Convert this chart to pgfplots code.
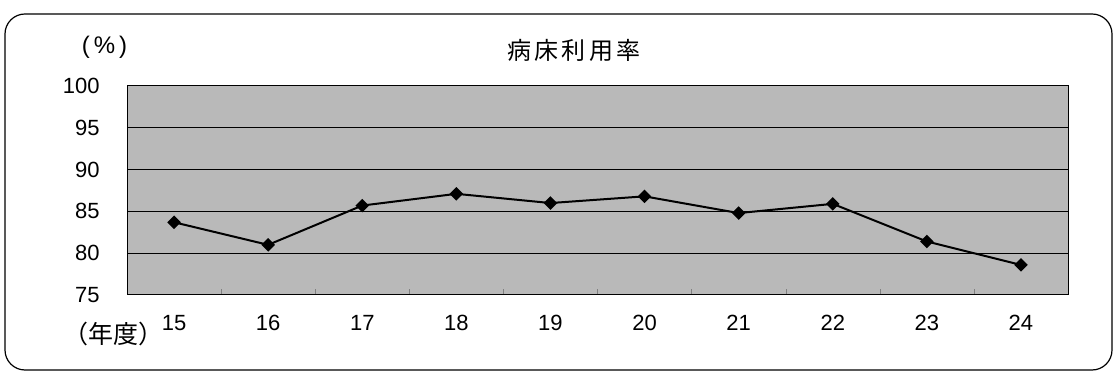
\documentclass[border=0pt]{standalone}
\usepackage{pgfplots}
\pgfplotsset{compat=1.18}
\usepackage{fontspec}
\setmainfont{Liberation Sans}
\newfontfamily\cjk{Noto Sans CJK JP}
\definecolor{plotbg}{HTML}{B9B9B9}
\begin{document}
\begin{tikzpicture}[x=0.5pt,y=0.5pt]
\useasboundingbox (0,0) rectangle (1118,374);
\draw[line width=0.6pt, rounded corners=10pt] (5,4) rectangle (1112,360);
\node[font=\cjk\fontsize{12}{14}\selectfont] at (574,324) {病\hspace{1.6pt}床\hspace{1.6pt}利\hspace{1.6pt}用\hspace{1.6pt}率};
\node[font=\fontsize{12}{14}\selectfont] at (104.5,327) {(\,\%\,)};
\node[font=\cjk\fontsize{12.5}{14}\selectfont] at (113,40) {（年度）};
\begin{axis}[
  at={(63.5pt,39.5pt)}, anchor=origin,
  scale only axis, width=470.5pt, height=104.5pt,
  xmin=14.5, xmax=24.5, ymin=75, ymax=100,
  axis background/.style={fill=plotbg},
  axis line style={line width=0.5pt},
  xtick={15,...,24},
  minor xtick={15.5,16.5,...,23.5},
  major tick length=0pt,
  minor tick length=3pt,
  tick align=inside,
  xtick pos=bottom,
  ytick={75,80,...,100},
  ytick style={draw=none},
  ymajorgrids, major grid style={black, line width=0.5pt},
  /pgf/number format/assume math mode=true,
  ticklabel style={font=\fontsize{11}{13}\selectfont},
  yticklabel style={anchor=east, inner sep=0pt, xshift=-13.5pt},
  xticklabel style={anchor=north, inner sep=0pt, yshift=-10pt},
]
\addplot[black, line width=1pt, mark=square*, mark size=1.9pt, mark options={rotate=45, fill=black}] coordinates {
(15,83.7) (16,81.0) (17,85.7) (18,87.1) (19,86.0) (20,86.8) (21,84.8) (22,85.9) (23,81.4) (24,78.6)
};
\end{axis}
\end{tikzpicture}
\end{document}
